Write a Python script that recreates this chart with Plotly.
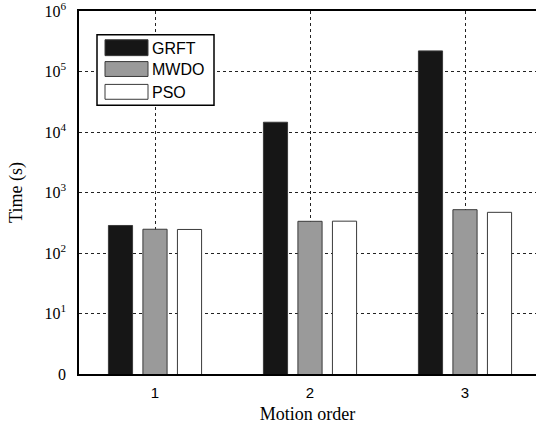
import plotly.graph_objects as go

categories = [1, 2, 3]
series_names = ["GRFT", "MWDO", "PSO"]
grft = [285, 14500, 219000]
mwdo = [247, 334, 520]
pso = [245, 336, 470]
y_tickvals = [1, 10, 100, 1000, 10000, 100000, 1000000]
y_ticktext = ["0", "10<sup>1</sup>", "10<sup>2</sup>", "10<sup>3</sup>",
              "10<sup>4</sup>", "10<sup>5</sup>", "10<sup>6</sup>"]

colors = ["#161616", "#9a9a9a", "#ffffff"]
W, H = 536, 424
ML, MR, MT, MB = 79, 0, 8, 50
PW, PH = W - ML - MR, H - MT - MB

fig = go.Figure()
for name, vals, col in zip(series_names, [grft, mwdo, pso], colors):
    fig.add_trace(go.Bar(x=categories, y=vals, name=name, showlegend=False,
                         marker=dict(color=col, line=dict(color="#3a3a3a", width=1))))

def px(x):
    return (x - ML) / PW

def py(y):
    return 1 - (y - MT) / PH

shapes = []
annotations = []
# legend box
shapes.append(dict(type="rect", xref="paper", yref="paper", x0=px(97), x1=px(214),
                   y0=py(103), y1=py(32), line=dict(color="black", width=1.5),
                   fillcolor="white", layer="above"))
rows = [(37, 53), (59, 74), (82, 97)]
for (y0, y1), name, col in zip(rows, series_names, colors):
    shapes.append(dict(type="rect", xref="paper", yref="paper", x0=px(105), x1=px(148),
                       y0=py(y1), y1=py(y0), line=dict(color="#3a3a3a", width=1),
                       fillcolor=col, layer="above"))
    annotations.append(dict(text=name, xref="paper", yref="paper", x=px(150),
                            y=py((y0 + y1) / 2 + 0.5), xanchor="left", yanchor="middle",
                            showarrow=False,
                            font=dict(family="Liberation Sans, Arial", size=16, color="black")))

fig.update_layout(
    width=W, height=H,
    margin=dict(l=ML, r=MR, t=MT, b=MB, pad=0),
    paper_bgcolor="white", plot_bgcolor="white",
    barmode="group", bargap=0.332, bargroupgap=0.30,
    shapes=shapes, annotations=annotations,
    xaxis=dict(range=[1 - 76 / 155, 1 - 76 / 155 + PW / 155], tickvals=categories,
               ticktext=[str(c) for c in categories],
               showgrid=True, gridcolor="#222222", griddash="dot", gridwidth=1,
               showline=True, linecolor="black", linewidth=1.5, mirror=True,
               ticks="", zeroline=False, ticklabelstandoff=4,
               tickfont=dict(family="Liberation Sans, Arial", size=15, color="black"),
               title=dict(text="Motion order", standoff=9,
                          font=dict(family="Liberation Serif, Times New Roman", size=18, color="black"))),
    yaxis=dict(type="log", range=[0, 6], tickvals=y_tickvals, ticktext=y_ticktext,
               showgrid=True, gridcolor="#222222", griddash="dot", gridwidth=1,
               showline=True, linecolor="black", linewidth=1.5, mirror=False,
               ticks="", zeroline=False, ticklabelstandoff=8, ticklabeloverflow="allow",
               tickfont=dict(family="Liberation Serif, Times New Roman", size=16, color="black"),
               title=dict(text="Time (s)", standoff=17,
                          font=dict(family="Liberation Serif, Times New Roman", size=18, color="black"))),
)

fig.write_html("out.html", config={"displayModeBar": False},
               post_script="document.body.style.margin='0';document.body.style.overflow='hidden';")
